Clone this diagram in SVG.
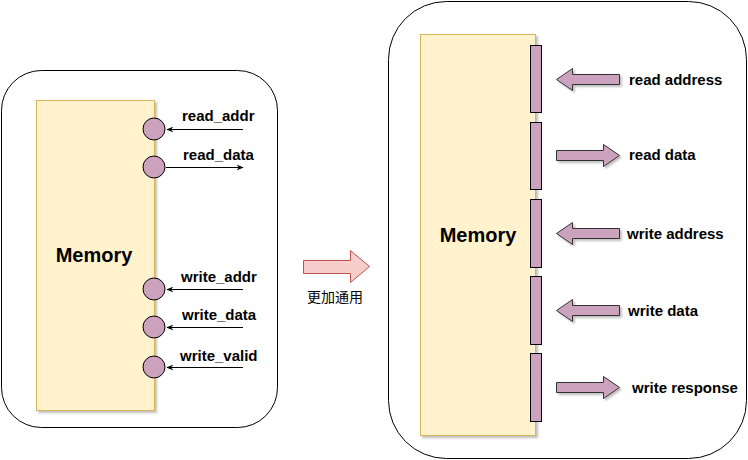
<svg xmlns="http://www.w3.org/2000/svg" width="748" height="460" viewBox="0 0 748 460">
<defs>
<style>
.cont{fill:#fff;stroke:#000;stroke-width:1}
.mem{fill:#fff2cc;stroke:#d6b656;stroke-width:1}
.port{fill:#cda2be;stroke:#000;stroke-width:1}
.barr{fill:#cda2be;stroke:#333;stroke-width:1}
.lbl{font-family:"Liberation Sans",Arial,sans-serif;font-weight:bold;font-size:15px;fill:#000}
.big{font-family:"Liberation Sans",Arial,sans-serif;font-weight:bold;font-size:20px;fill:#000}
.line{stroke:#000;stroke-width:1;fill:none}
</style>
<filter id="sh" x="-20%" y="-20%" width="140%" height="140%">
<feOffset in="SourceAlpha" dx="2" dy="2" result="o"/>
<feGaussianBlur in="o" stdDeviation="1" result="b"/>
<feComponentTransfer in="b" result="c"><feFuncA type="linear" slope="0.25"/></feComponentTransfer>
<feMerge><feMergeNode in="c"/><feMergeNode in="SourceGraphic"/></feMerge>
</filter>
<marker id="ah" viewBox="0 0 10 10" refX="9" refY="5" markerWidth="7" markerHeight="7" orient="auto-start-reverse">
<path d="M0,1 L10,5 L0,9 L3,5 Z" fill="#000"/>
</marker>
</defs>

<g id="left-container"><rect class="cont" x="1.5" y="70.5" width="276" height="357" rx="40"/></g>
<g id="right-container"><rect class="cont" x="388.5" y="1.5" width="358" height="457" rx="58"/></g>

<g id="memory-left">
<rect class="mem" x="36.5" y="100.5" width="118" height="310" filter="url(#sh)"/>
<text class="big" x="94" y="262" text-anchor="middle">Memory</text>
</g>

<g id="ports-left">
<circle class="port" cx="154" cy="129" r="11"/>
<circle class="port" cx="154" cy="167" r="11"/>
<circle class="port" cx="154" cy="289" r="11"/>
<circle class="port" cx="154" cy="327" r="11"/>
<circle class="port" cx="154" cy="367" r="11"/>
</g>

<g id="connectors">
<line class="line" x1="243" y1="129.5" x2="167" y2="129.5" marker-end="url(#ah)"/>
<line class="line" x1="166" y1="167.5" x2="243" y2="167.5" marker-end="url(#ah)"/>
<line class="line" x1="243" y1="289.5" x2="167" y2="289.5" marker-end="url(#ah)"/>
<line class="line" x1="243" y1="327.5" x2="167" y2="327.5" marker-end="url(#ah)"/>
<line class="line" x1="243" y1="367.5" x2="167" y2="367.5" marker-end="url(#ah)"/>
</g>

<g id="labels-left">
<text class="lbl" x="182" y="121">read_addr</text>
<text class="lbl" x="183" y="160">read_data</text>
<text class="lbl" x="181" y="282">write_addr</text>
<text class="lbl" x="182" y="320">write_data</text>
<text class="lbl" x="180" y="361">write_valid</text>
</g>

<g id="transition">
<path d="M303.5,260.5 H350.5 V250.5 L369.5,266.5 L350.5,282.5 V273.5 H303.5 Z" fill="#f8cecc" stroke="#b85450" stroke-width="1"/>
<text x="335" y="302" text-anchor="middle" font-family="'Noto Sans CJK SC',sans-serif" font-size="14" fill="#000">更加通用</text>
</g>

<g id="memory-right">
<rect class="mem" x="420.5" y="34.5" width="115" height="401" filter="url(#sh)"/>
<text class="big" x="478" y="242" text-anchor="middle">Memory</text>
</g>

<g id="bars-right">
<rect class="port" x="530.5" y="45.5" width="11" height="67"/>
<rect class="port" x="530.5" y="122.5" width="11" height="67"/>
<rect class="port" x="530.5" y="199.5" width="11" height="68"/>
<rect class="port" x="530.5" y="276.5" width="11" height="68"/>
<rect class="port" x="530.5" y="353.5" width="11" height="68"/>
</g>

<g id="arrows-right" filter="url(#sh)">
<path class="barr" d="M619.5,74.5 H572.5 V68.5 L556.5,79.5 L572.5,90.5 V84.5 H619.5 Z"/>
<path class="barr" d="M556.5,150.5 H603.5 V144.5 L619.5,155.5 L603.5,166.5 V160.5 H556.5 Z"/>
<path class="barr" d="M619.5,228.5 H572.5 V222.5 L556.5,233.5 L572.5,244.5 V238.5 H619.5 Z"/>
<path class="barr" d="M619.5,305.5 H572.5 V299.5 L556.5,310.5 L572.5,321.5 V315.5 H619.5 Z"/>
<path class="barr" d="M556.5,382.5 H603.5 V376.5 L619.5,387.5 L603.5,398.5 V392.5 H556.5 Z"/>
</g>

<g id="labels-right">
<text class="lbl" x="629" y="85">read address</text>
<text class="lbl" x="629" y="160">read data</text>
<text class="lbl" x="627" y="239">write address</text>
<text class="lbl" x="628" y="316">write data</text>
<text class="lbl" x="632" y="393">write response</text>
</g>
</svg>
